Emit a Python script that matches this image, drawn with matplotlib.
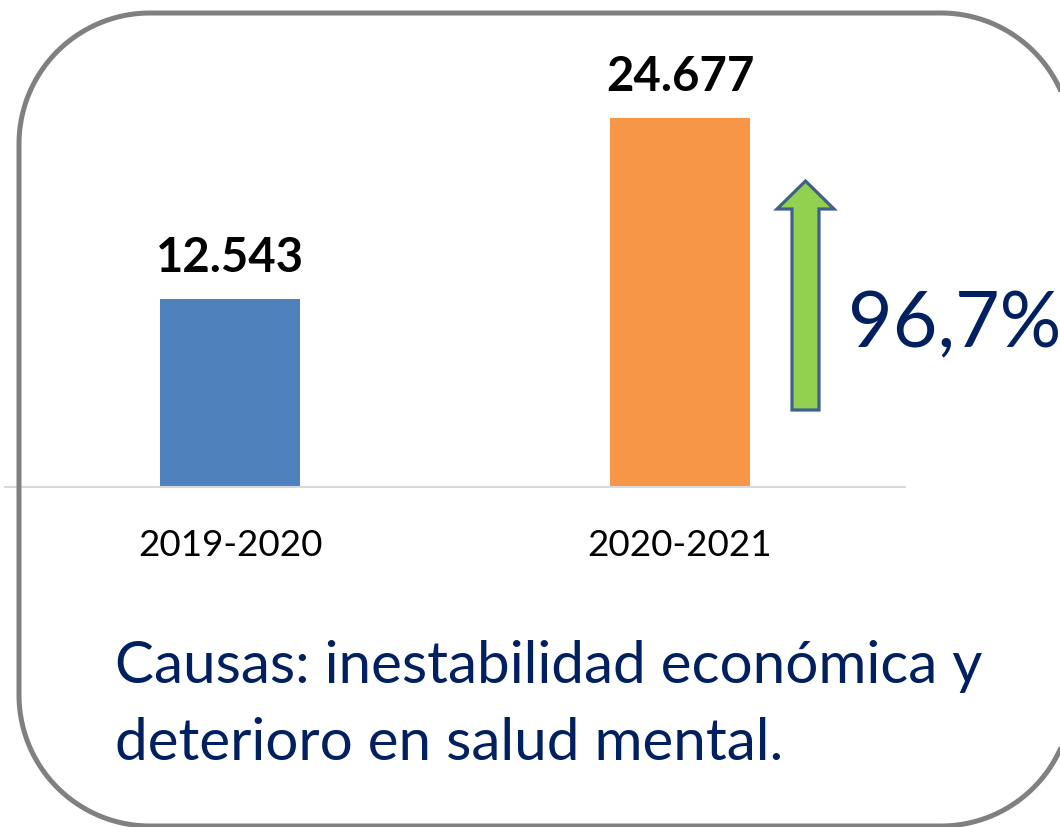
import matplotlib
matplotlib.use("Agg")
import numpy as np
import matplotlib.pyplot as plt
from matplotlib.patches import Polygon

categories = ["2019-2020", "2020-2021"]
values = [12543, 24677]
bar_colors = ["#4F81BD", "#F79646"]
caption_lines = ["Causas: inestabilidad económica y", "deterioro en salud mental."]

W, H, DPI = 1060, 827, 100
fig = plt.figure(figsize=(W / DPI, H / DPI), dpi=DPI)
fig.patch.set_facecolor("white")

FONT = "Lato"
NAVY = "#002060"


def fx(p):
    return p / W


def fy(p):
    return (H - p) / H


# axes placed in pixel units
ax_left, ax_right, ax_base, ax_top = 5, 905, 487, 20
ax = fig.add_axes([ax_left / W, (H - ax_base) / H, (ax_right - ax_left) / W, (ax_base - ax_top) / H])
scale = 0.01495  # px per unit
ax.set_ylim(0, (ax_base - ax_top) / scale)
ax.set_xlim(-0.5, 1.5)
ax.patch.set_alpha(0)

x = list(range(len(categories)))
bars = ax.bar(x, values, width=0.313, color=bar_colors, zorder=2)
for s in ["top", "right", "left"]:
    ax.spines[s].set_visible(False)
ax.spines["bottom"].set_color("#D9D9D9")
ax.spines["bottom"].set_linewidth(1.5)
ax.set_yticks([])
ax.set_xticks(x)
ax.set_xticklabels(categories, fontsize=26.5, family=FONT, color="black", va="baseline")
ax.tick_params(axis="x", length=0, pad=69 * 0.72)

labels = [f"{v:,}".replace(",", ".") for v in values]
for xi, v, lab in zip(x, values, labels):
    ax.annotate(lab, (xi, v), xytext=(0, 27), textcoords="offset pixels",
                ha="center", va="baseline", fontsize=34, fontweight="bold",
                family=FONT, color="black")

pct = (values[1] / values[0] - 1) * 100
pct_label = f"{pct:.1f}%".replace(".", ",")
fig.text(fx(848), fy(347), pct_label, ha="left", va="baseline",
         fontsize=55.5, family=FONT, color=NAVY)

# growth arrow (decoration)
arrow_px = [(792, 410), (819, 410), (819, 209), (834, 209), (805.5, 181),
            (777, 209), (792, 209)]
fig.patches.append(Polygon([(fx(a), fy(b)) for a, b in arrow_px], closed=True,
                           transform=fig.transFigure,
                           facecolor="#92D050", edgecolor="#3F5F8F",
                           linewidth=2.3, joinstyle="miter"))

# caption
fig.text(fx(115), fy(683), caption_lines[0], ha="left", va="baseline",
         fontsize=42, family=FONT, color=NAVY)
fig.text(fx(115), fy(760), caption_lines[1], ha="left", va="baseline",
         fontsize=42, family=FONT, color=NAVY)

# rounded frame built as a polyline (pixel coords, top-left origin)
x0, y0, x1, y1, r = 19, 13, 1072, 826, 131
pts = []
corners = [(x1 - r, y0 + r, -90, 0), (x1 - r, y1 - r, 0, 90),
           (x0 + r, y1 - r, 90, 180), (x0 + r, y0 + r, 180, 270)]
for cx, cy, a0, a1 in corners:
    t = np.radians(np.linspace(a0, a1, 60))
    pts.extend(zip(cx + r * np.cos(t), cy + r * np.sin(t)))
fig.patches.append(Polygon([(fx(a), fy(b)) for a, b in pts], closed=True,
                           transform=fig.transFigure, facecolor="none",
                           edgecolor="#808080", linewidth=3.6, clip_on=False))

fig.savefig("out.png", dpi=DPI, facecolor="white")
